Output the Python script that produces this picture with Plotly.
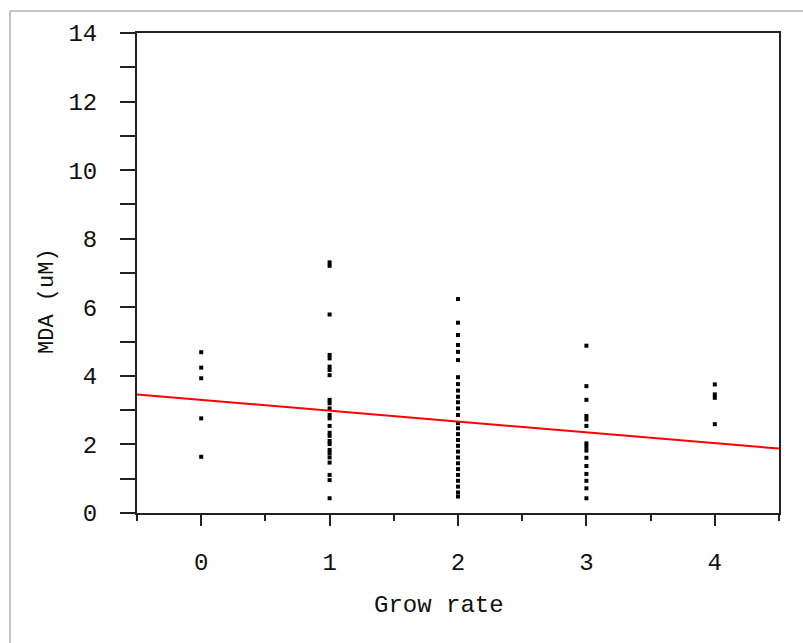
import plotly.graph_objects as go

# Grow rate groups and MDA values (uM)
grow_rate_0 = [4.69, 4.24, 3.93, 2.76, 1.64]
grow_rate_1 = [7.31, 7.21, 5.79, 4.61, 4.51, 4.27, 4.17, 4.02, 3.30, 3.20, 3.05,
               2.86, 2.76, 2.54, 2.34, 2.25, 2.10, 2.01, 1.84, 1.74, 1.62, 1.47,
               1.11, 0.96, 0.43]
grow_rate_2 = [6.24, 5.55, 5.19, 4.90, 4.70, 4.46, 3.96, 3.76, 3.57, 3.39, 3.23,
               3.05, 2.86, 2.62, 2.47, 2.30, 2.13, 1.96, 1.79, 1.62, 1.45, 1.28,
               1.11, 0.94, 0.77, 0.60, 0.48]
grow_rate_3 = [4.88, 3.70, 3.30, 2.83, 2.73, 2.54, 2.03, 1.93, 1.82, 1.61, 1.37,
               1.14, 0.94, 0.72, 0.43]
grow_rate_4 = [3.75, 3.46, 3.36, 2.59]
groups = [0, 1, 2, 3, 4]
group_values = [grow_rate_0, grow_rate_1, grow_rate_2, grow_rate_3, grow_rate_4]

# fitted regression line
fit_intercept = 3.30
fit_slope = -0.316
fit_x_range = [-0.5, 4.5]

x_tick_vals = [0, 1, 2, 3, 4]
y_tick_vals = [0, 2, 4, 6, 8, 10, 12, 14]

xs, ys = [], []
for g, vals in zip(groups, group_values):
    xs += [g] * len(vals)
    ys += vals

FONT = "Liberation Mono"

fig = go.Figure()
fig.add_trace(go.Scatter(
    x=xs, y=ys, mode="markers",
    marker=dict(symbol="square", size=4, color="black", line=dict(width=0)),
    showlegend=False, hoverinfo="skip"))
fig.add_trace(go.Scatter(
    x=fit_x_range, y=[fit_intercept + fit_slope * v for v in fit_x_range],
    mode="lines", line=dict(color="#ff0000", width=2),
    showlegend=False, hoverinfo="skip"))

axis_common = dict(showgrid=False, zeroline=False, showline=True, mirror=True,
                   linecolor="#222222", linewidth=2, ticks="outside",
                   tickcolor="#222222", tickwidth=2,
                   tickfont=dict(family=FONT, size=24, color="#111111"))

fig.update_xaxes(range=[-0.5, 4.5], tickvals=x_tick_vals, ticklen=11,
                 ticklabelstandoff=15,
                 minor=dict(dtick=0.5, tick0=0, ticks="outside", ticklen=6,
                            tickcolor="#222222", tickwidth=2),
                 **axis_common)
fig.update_yaxes(range=[0, 14], tickvals=y_tick_vals, ticklen=15,
                 ticklabelstandoff=18,
                 minor=dict(dtick=1, tick0=0, ticks="outside", ticklen=15,
                            tickcolor="#222222", tickwidth=2),
                 **axis_common)

fig.add_annotation(text="Grow rate", xref="paper", yref="paper",
                   x=(439 - 137) / 642, y=(513 - 605) / 480,
                   xanchor="center", yanchor="middle", showarrow=False,
                   font=dict(family=FONT, size=24, color="#111111"))
fig.add_annotation(text="MDA (uM)", xref="paper", yref="paper",
                   x=(47 - 137) / 642, y=(513 - 301) / 480, textangle=-90,
                   xanchor="center", yanchor="middle", showarrow=False,
                   font=dict(family=FONT, size=22, color="#111111"))

# light grey frame of the original image (top and left edges)
fig.add_shape(type="line", xref="paper", yref="paper",
              x0=(10 - 137) / 642, y0=(513 - 11) / 480,
              x1=(803 - 137) / 642, y1=(513 - 11) / 480,
              line=dict(color="#c4c4c4", width=2))
fig.add_shape(type="line", xref="paper", yref="paper",
              x0=(10 - 137) / 642, y0=(513 - 11) / 480,
              x1=(10 - 137) / 642, y1=(513 - 643) / 480,
              line=dict(color="#c4c4c4", width=2))

fig.update_layout(width=803, height=643,
                  margin=dict(l=137, r=24, t=33, b=130, pad=0),
                  paper_bgcolor="white", plot_bgcolor="white")

fig.write_html("out.html")
